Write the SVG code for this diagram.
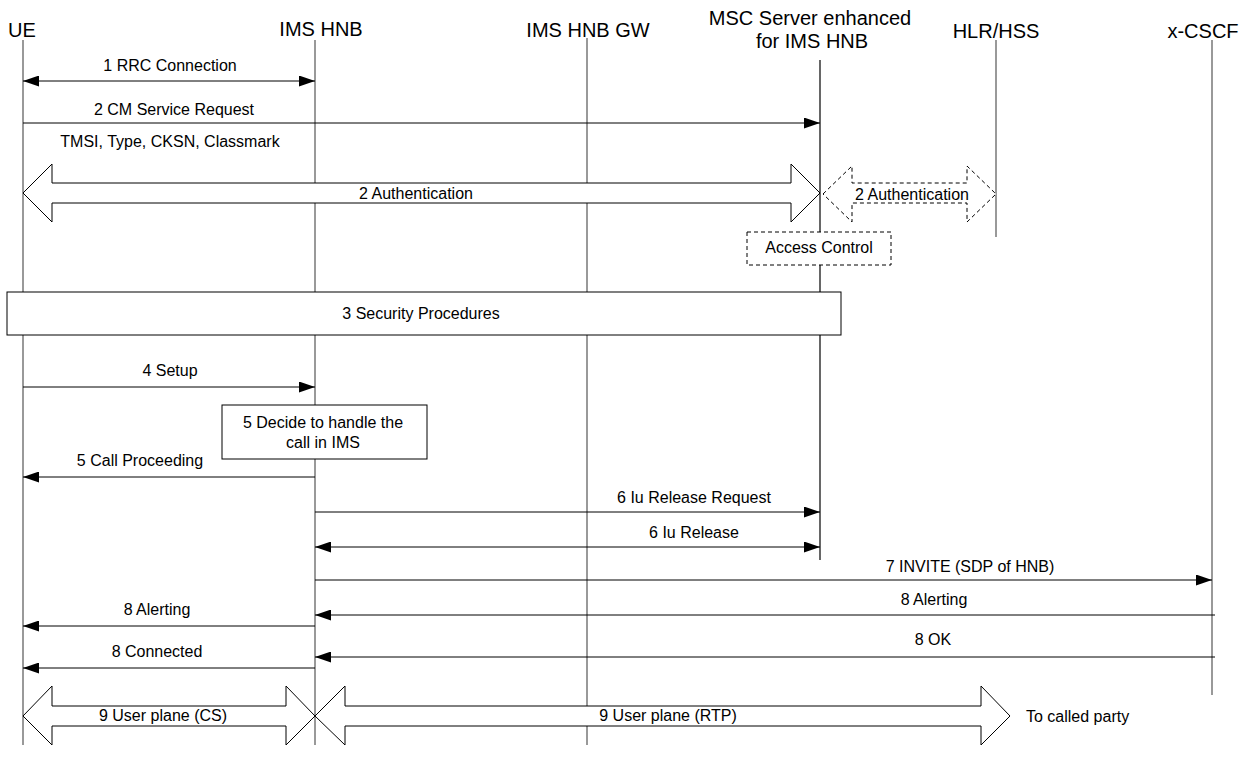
<svg xmlns="http://www.w3.org/2000/svg" width="1251" height="769" viewBox="0 0 1251 769">
<defs>
<marker id="ah" viewBox="0 0 16 11" refX="16" refY="5.5" markerWidth="16" markerHeight="11" markerUnits="userSpaceOnUse" orient="auto-start-reverse">
<path d="M0,0 L16,5.5 L0,11 z" fill="#000"/>
</marker>
<style>
text{font-family:"Liberation Sans",Arial,sans-serif;fill:#000}
.hd{font-size:20px;text-anchor:middle}
.lb{font-size:16px;text-anchor:middle}
.ll{stroke:#555;stroke-width:1.2;fill:none}
.msg{stroke:#000;stroke-width:1;fill:none}
.box{fill:#fff;stroke:#000;stroke-width:1}
.dbox{fill:#fff;stroke:#000;stroke-width:1;stroke-dasharray:4,3}
.blk{fill:#fff;stroke:#000;stroke-width:1}
</style>
</defs>
<rect width="1251" height="769" fill="#fff"/>

<g id="lifelines">
<line class="ll" x1="23" y1="40" x2="23" y2="745"/>
<line class="ll" x1="315" y1="40" x2="315" y2="745"/>
<line class="ll" x1="587" y1="38" x2="587" y2="745"/>
<line class="ll" x1="820" y1="60" x2="820" y2="560" style="stroke:#000"/>
<line class="ll" x1="996" y1="40" x2="996" y2="237"/>
<line class="ll" x1="1212" y1="40" x2="1212" y2="695"/>
</g>

<g id="node-ue"><text class="hd" x="22" y="37">UE</text></g>
<g id="node-hnb"><text class="hd" x="321" y="36">IMS HNB</text></g>
<g id="node-hnbgw"><text class="hd" x="588" y="37">IMS HNB GW</text></g>
<g id="node-msc"><text class="hd" x="810" y="25">MSC Server enhanced</text><text class="hd" x="812" y="48">for IMS HNB</text></g>
<g id="node-hlr"><text class="hd" x="996" y="38">HLR/HSS</text></g>
<g id="node-cscf"><text class="hd" x="1203" y="38">x-CSCF</text></g>

<g id="connectors">
<line class="msg" x1="23" y1="81" x2="315" y2="81" marker-start="url(#ah)" marker-end="url(#ah)"/>
<text class="lb" x="170" y="71">1 RRC Connection</text>
<line class="msg" x1="23" y1="123" x2="820" y2="123" marker-end="url(#ah)"/>
<text class="lb" x="174" y="115">2 CM Service Request</text>
<text class="lb" x="170" y="147">TMSI, Type, CKSN, Classmark</text>

<polygon class="blk" points="23,193 52,164 52,183 791,183 791,164 820,193 791,222 791,203 52,203 52,222"/>
<text class="lb" x="416" y="199">2 Authentication</text>
<polygon class="blk" style="stroke-dasharray:4,3" points="823,194 852,166 852,183 967,183 967,166 996,194 967,222 967,203 852,203 852,222"/>
<text class="lb" x="912" y="200">2 Authentication</text>

<line class="msg" x1="23" y1="387" x2="315" y2="387" marker-end="url(#ah)"/>
<text class="lb" x="170" y="376">4 Setup</text>

<line class="msg" x1="315" y1="477" x2="23" y2="477" marker-end="url(#ah)"/>
<text class="lb" x="140" y="466">5 Call Proceeding</text>
<line class="msg" x1="315" y1="512" x2="820" y2="512" marker-end="url(#ah)"/>
<text class="lb" x="694" y="503">6 Iu Release Request</text>
<line class="msg" x1="315" y1="547" x2="820" y2="547" marker-start="url(#ah)" marker-end="url(#ah)"/>
<text class="lb" x="694" y="538">6 Iu Release</text>
<line class="msg" x1="315" y1="580" x2="1212" y2="580" marker-end="url(#ah)"/>
<text class="lb" x="970" y="572">7 INVITE (SDP of HNB)</text>
<line class="msg" x1="1215" y1="615" x2="315" y2="615" marker-end="url(#ah)"/>
<text class="lb" x="934" y="605">8 Alerting</text>
<line class="msg" x1="315" y1="626" x2="23" y2="626" marker-end="url(#ah)"/>
<text class="lb" x="157" y="615">8 Alerting</text>
<line class="msg" x1="1215" y1="657" x2="315" y2="657" marker-end="url(#ah)"/>
<text class="lb" x="933" y="645">8 OK</text>
<line class="msg" x1="315" y1="668" x2="23" y2="668" marker-end="url(#ah)"/>
<text class="lb" x="157" y="657">8 Connected</text>

<polygon class="blk" points="23,716 52,686 52,706 286,706 286,686 315,716 286,745 286,726 52,726 52,745"/>
<text class="lb" x="163" y="721">9 User plane (CS)</text>
<polygon class="blk" points="315,716 345,686 345,706 981,706 981,686 1010,716 981,745 981,726 345,726 345,745"/>
<text class="lb" x="668" y="721">9 User plane (RTP)</text>
<text class="lb" x="1026" y="722" style="text-anchor:start">To called party</text>
</g>

<g id="access-control">
<rect class="dbox" x="747" y="232" width="144" height="33"/>
<text class="lb" x="819" y="253">Access Control</text>
</g>

<g id="security">
<rect class="box" x="7" y="292" width="834" height="43"/>
<text class="lb" x="421" y="319">3 Security Procedures</text>
</g>

<g id="decide">
<rect class="box" x="222" y="405" width="205" height="54"/>
<text class="lb" x="323" y="428">5 Decide to handle the</text>
<text class="lb" x="323" y="448">call in IMS</text>
</g>
</svg>
